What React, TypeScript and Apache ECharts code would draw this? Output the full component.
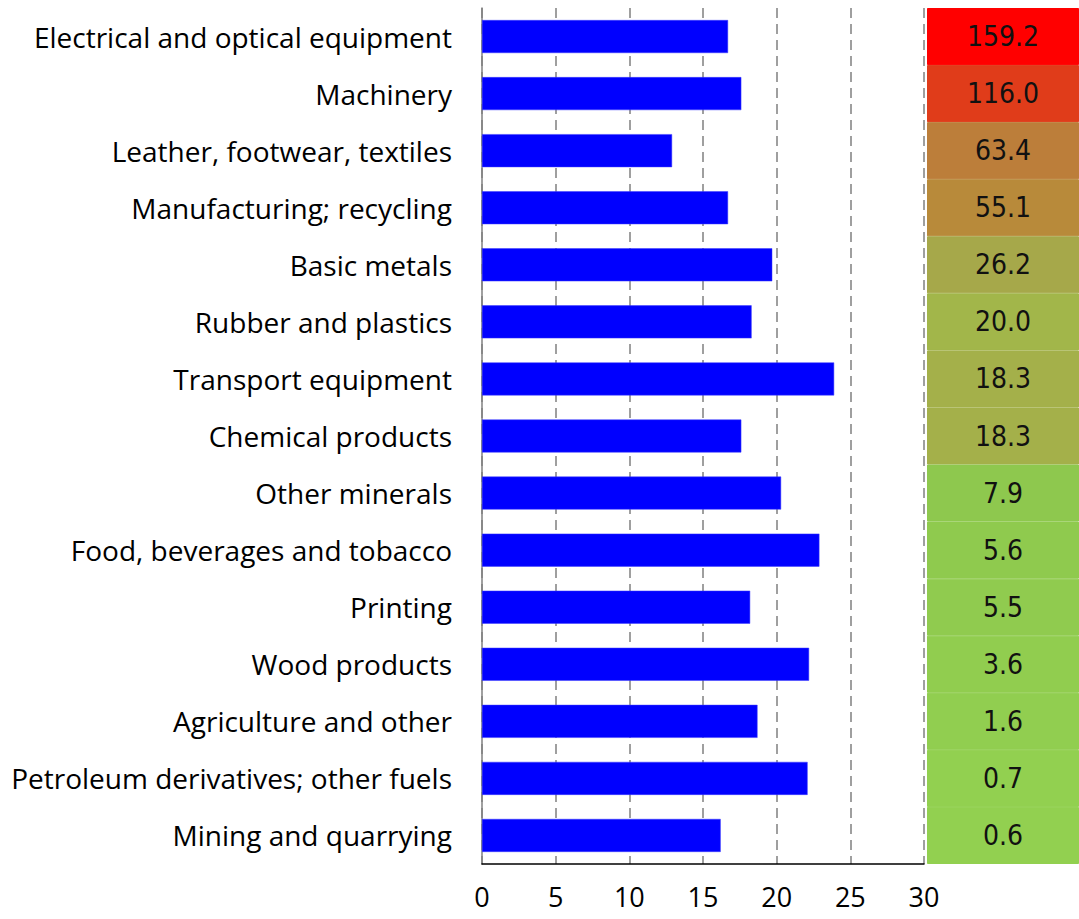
import React, { useEffect, useRef } from "react";
import * as echarts from "echarts";

const categories = [
  "Electrical and optical equipment",
  "Machinery",
  "Leather, footwear, textiles",
  "Manufacturing; recycling",
  "Basic metals",
  "Rubber and plastics",
  "Transport equipment",
  "Chemical products",
  "Other minerals",
  "Food, beverages and tobacco",
  "Printing",
  "Wood products",
  "Agriculture and other",
  "Petroleum derivatives; other fuels",
  "Mining and quarrying",
];

const barValues = [16.7, 17.6, 12.9, 16.7, 19.7, 18.3, 23.9, 17.6, 20.3, 22.9, 18.2, 22.2, 18.7, 22.1, 16.2];

const heatValues = [159.2, 116.0, 63.4, 55.1, 26.2, 20.0, 18.3, 18.3, 7.9, 5.6, 5.5, 3.6, 1.6, 0.7, 0.6];

const heatColors = [
  "#FF0000", "#E03C1A", "#BC7E3A", "#B88A3A", "#A6A84A", "#A2B64A", "#A4B04A", "#A4B04A",
  "#8EC84E", "#8FCA4E", "#90CB4F", "#91CD4F", "#91CE50", "#92D050", "#92D050",
];

const xTicks = [0, 5, 10, 15, 20, 25, 30];

export default function App() {
  const ref = useRef<HTMLDivElement>(null);
  useEffect(() => {
    if (!ref.current) return;
    const chart = echarts.init(ref.current, undefined, { renderer: "svg" });
    const font = "Open Sans";
    chart.setOption({
      animation: false,
      backgroundColor: "#ffffff",
      grid: [
        { left: 482, right: 155, top: 8, bottom: 55 },
        { left: 927, right: 0, top: 8, bottom: 55 },
      ],
      xAxis: [
        {
          gridIndex: 0,
          type: "value",
          min: xTicks[0],
          max: xTicks[xTicks.length - 1],
          interval: 5,
          axisLine: { show: true, lineStyle: { color: "#000000", width: 1.5 } },
          axisTick: { show: false },
          splitLine: { show: true, lineStyle: { color: "#808080", type: [10, 6], width: 1.5 } },
          axisLabel: { color: "#000000", fontSize: 27, fontFamily: font, margin: 19 },
        },
        {
          gridIndex: 1,
          type: "value",
          min: 0,
          max: 1,
          show: false,
        },
      ],
      yAxis: [
        {
          gridIndex: 0,
          type: "category",
          data: categories,
          inverse: true,
          axisLine: { show: true, lineStyle: { color: "#808080", width: 1.5 } },
          axisTick: { show: false },
          axisLabel: { color: "#000000", fontSize: 28, fontFamily: font, margin: 30 },
        },
        {
          gridIndex: 1,
          type: "category",
          data: categories,
          inverse: true,
          show: false,
        },
      ],
      series: [
        {
          type: "bar",
          xAxisIndex: 0,
          yAxisIndex: 0,
          data: barValues,
          barWidth: 33,
          itemStyle: { color: "#0000FF", borderColor: "#3a3aff", borderWidth: 0.5 },
        },
        {
          type: "bar",
          xAxisIndex: 1,
          yAxisIndex: 1,
          barWidth: "100%",
          data: heatValues.map((v, i) => ({
            value: 1,
            itemStyle: { color: heatColors[i], borderColor: heatColors[i], borderWidth: 1 },
          })),
          label: {
            show: true,
            position: "inside",
            color: "#111111",
            fontSize: 28,
            fontFamily: "DejaVu Sans Condensed",
            formatter: (p: any) => heatValues[p.dataIndex].toFixed(1),
          },
        },
      ],
    });
    return () => chart.dispose();
  }, []);
  return <div ref={ref} style={{ width: 1079, height: 919, position: "absolute", left: 0, top: 0 }} />;
}
